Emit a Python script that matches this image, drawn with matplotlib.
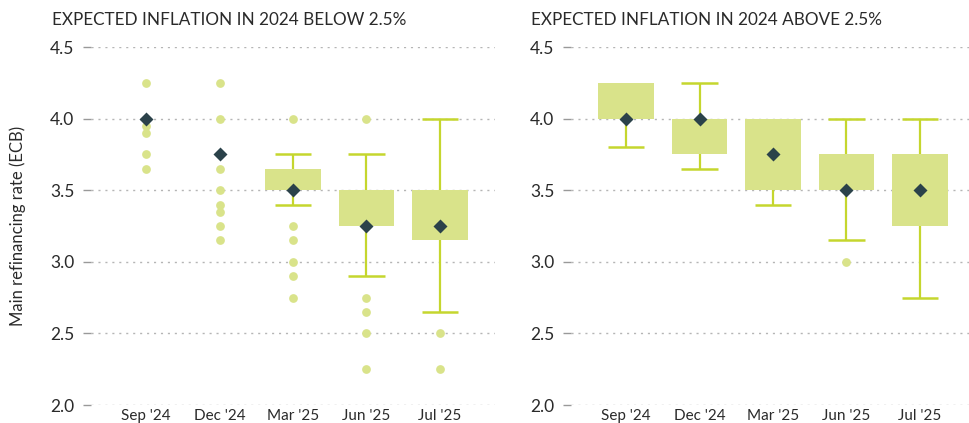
import numpy as np
import matplotlib
matplotlib.use("Agg")
import matplotlib.pyplot as plt

plt.rcParams['font.family'] = ['Lato', 'DejaVu Sans']

# data
cats = ["Sep '24", "Dec '24", "Mar '25", "Jun '25", "Jul '25"]
nan = np.nan

# left panel: expected inflation in 2024 below 2.5%
below_q1 = [nan, nan, 3.5, 3.25, 3.15]
below_q3 = [nan, nan, 3.65, 3.5, 3.5]
below_lo = [nan, nan, 3.4, 2.9, 2.65]
below_hi = [nan, nan, 3.75, 3.75, 4.0]
below_mid = [4.0, 3.75, 3.5, 3.25, 3.25]
below_out = [[4.25, 4.0, 3.95, 3.9, 3.75, 3.65],
             [4.25, 4.0, 3.65, 3.5, 3.4, 3.35, 3.25, 3.15],
             [4.0, 3.25, 3.15, 3.0, 2.9, 2.75],
             [4.0, 2.75, 2.65, 2.5, 2.25],
             [2.5, 2.25]]

# right panel: expected inflation in 2024 above 2.5%
above_q1 = [4.0, 3.75, 3.5, 3.5, 3.25]
above_q3 = [4.25, 4.0, 4.0, 3.75, 3.75]
above_lo = [3.8, 3.65, 3.4, 3.15, 2.75]
above_hi = [4.25, 4.25, 4.0, 4.0, 4.0]
above_mid = [4.0, 4.0, 3.75, 3.5, 3.5]
above_out = [[], [], [], [3.0], []]

titles = ["EXPECTED INFLATION IN 2024 BELOW 2.5%", "EXPECTED INFLATION IN 2024 ABOVE 2.5%"]

box_col = "#d9e38a"
line_col = "#c5d62e"
dot_col = "#d9e38a"
mark_col = "#2b424a"
grid_col = "#b5b5b5"
text_col = "#2a2a2a"


def draw_panel(ax, q1, q3, lo, hi, mid, out):
    x = np.arange(len(cats))
    q1 = np.array(q1); q3 = np.array(q3)
    lo = np.array(lo); hi = np.array(hi)
    has_box = ~np.isnan(q1)
    # whiskers + caps, behind the boxes; caps only where the whisker sticks out
    ax.vlines(x[has_box], lo[has_box], hi[has_box], color=line_col, lw=1.6, zorder=2)
    low_cap = has_box & (lo < q1)
    high_cap = has_box & (hi > q3)
    ax.hlines(lo[low_cap], x[low_cap] - 0.25, x[low_cap] + 0.25, color=line_col, lw=1.8, zorder=2)
    ax.hlines(hi[high_cap], x[high_cap] - 0.25, x[high_cap] + 0.25, color=line_col, lw=1.8, zorder=2)
    ax.bar(x[has_box], (q3 - q1)[has_box], bottom=q1[has_box], width=0.76,
           color=box_col, edgecolor="none", zorder=3)
    for i, pts in enumerate(out):
        if pts:
            ax.plot([x[i]] * len(pts), pts, "o", ms=6.3, color=dot_col, mec="none", zorder=3)
    ax.plot(x, mid, "D", ms=7.5, color=mark_col, mec="none", zorder=4)

    ax.set_xlim(-0.75, 4.75)
    ax.set_ylim(2.0, 4.5)
    ax.set_yticks([2.0, 2.5, 3.0, 3.5, 4.0, 4.5])
    ax.set_yticklabels([f"{v:.1f}" for v in [2.0, 2.5, 3.0, 3.5, 4.0, 4.5]])
    ax.set_xticks(x)
    ax.set_xticklabels(cats)
    ax.grid(axis="y", color=grid_col, lw=1.0, dashes=(1.5, 3.5), zorder=0)
    for s in ax.spines.values():
        s.set_visible(False)
    ax.tick_params(axis="y", length=6, width=1, color="#999999", labelsize=12.5,
                   labelcolor=text_col, pad=6)
    ax.tick_params(axis="x", length=0, labelsize=11, labelcolor=text_col, pad=3)


fig = plt.figure(figsize=(9.7, 4.23), dpi=100)
W, H = 970, 423
bottom_px, top_px = 405, 47
ax1 = fig.add_axes([91 / W, 1 - bottom_px / H, 404 / W, (bottom_px - top_px) / H])
ax2 = fig.add_axes([571 / W, 1 - bottom_px / H, 404 / W, (bottom_px - top_px) / H])

draw_panel(ax1, below_q1, below_q3, below_lo, below_hi, below_mid, below_out)
draw_panel(ax2, above_q1, above_q3, above_lo, above_hi, above_mid, above_out)

fig.text(52 / W, 1 - 20 / H, titles[0], fontsize=12.3, color=text_col, va="center", ha="left")
fig.text(531 / W, 1 - 20 / H, titles[1], fontsize=12.3, color=text_col, va="center", ha="left")
fig.text(18 / W, 1 - 226 / H, "Main refinancing rate (ECB)", rotation=90, fontsize=12,
         color=text_col, va="center", ha="center")

fig.savefig("out.png", dpi=100)
